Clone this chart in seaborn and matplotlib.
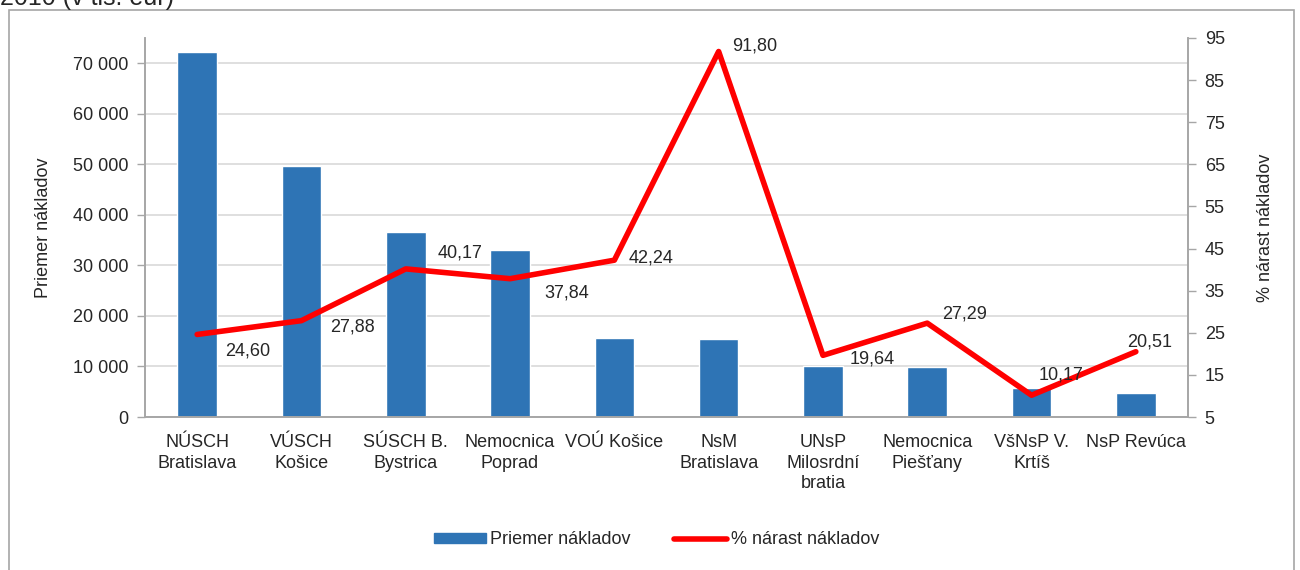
import seaborn as sns
import matplotlib.pyplot as plt
import pandas as pd
from matplotlib.patches import Patch, Rectangle
from matplotlib.lines import Line2D
from matplotlib.ticker import FuncFormatter, MultipleLocator

# Data
categories = ['NÚSCH\nBratislava', 'VÚSCH\nKošice', 'SÚSCH B.\nBystrica', 'Nemocnica\nPoprad',
              'VOÚ Košice', 'NsM\nBratislava', 'UNsP\nMilosrdní\nbratia', 'Nemocnica\nPiešťany',
              'VšNsP V.\nKrtíš', 'NsP Revúca']
avg_costs = [72300, 49700, 36600, 33000, 15700, 15500, 10000, 9900, 5700, 4700]
growth_pct = [24.60, 27.88, 40.17, 37.84, 42.24, 91.80, 19.64, 27.29, 10.17, 20.51]
growth_labels = ['24,60', '27,88', '40,17', '37,84', '42,24', '91,80', '19,64', '27,29', '10,17', '20,51']

# label offsets in pixels (dx, dy)
label_offsets = [(28, -17), (29, -6), (32, 16), (34, -14), (14, 2),
                 (13, 5), (27, -4), (15, 9), (7, 20), (-9, 10)]

df = pd.DataFrame({'cat': categories, 'cost': avg_costs, 'growth': growth_pct})

bar_color = '#2E74B5'
line_color = '#FF0000'
axis_gray = '#A6A6A6'
fs = 13

sns.set_style('white')
plt.rcParams['font.family'] = ['Liberation Sans', 'DejaVu Sans']

fig = plt.figure(figsize=(13, 5.7), dpi=100)
ax = fig.add_axes([145 / 1300, 1 - 417 / 570, (1188 - 145) / 1300, (417 - 38) / 570])

sns.barplot(data=df, x='cat', y='cost', color=bar_color, width=0.38, saturation=1, ax=ax)
ax.set_xlim(-0.5, len(categories) - 0.5)
ax.set_ylim(0, 75000)
ax.yaxis.set_major_locator(MultipleLocator(10000))
ax.yaxis.set_major_formatter(FuncFormatter(lambda v, p: f'{int(v):,}'.replace(',', ' ')))
ax.grid(axis='y', color='#D9D9D9', linewidth=1.2)
ax.set_axisbelow(True)
ax.set_xlabel('')
ax.set_ylabel('Priemer nákladov', fontsize=fs, labelpad=15)

# category ticks at boundaries, labels at centres
ax.set_xticks(range(len(categories)))
ax.set_xticklabels(categories, fontsize=fs, linespacing=1.3)
ax.set_xticks([i - 0.5 for i in range(len(categories) + 1)], minor=True)
ax.tick_params(axis='x', which='major', length=0, pad=12)
ax.tick_params(axis='x', which='minor', length=6, color=axis_gray, width=1)
ax.tick_params(axis='y', labelsize=fs, length=6, color=axis_gray, width=1, left=True, pad=6)

ax2 = ax.twinx()
sns.lineplot(x=list(range(len(categories))), y=growth_pct, color=line_color, linewidth=4, ax=ax2)
ax2.set_ylim(5, 95)
ax2.set_yticks(range(5, 96, 10))
ax2.tick_params(axis='y', labelsize=fs, length=6, color=axis_gray, width=1, right=True, pad=6)
ax2.set_ylabel('% nárast nákladov', fontsize=fs, labelpad=23, rotation=90)
ax2.grid(False)

for a in (ax, ax2):
    a.spines['top'].set_visible(False)
    for s in ('left', 'right', 'bottom'):
        a.spines[s].set_color(axis_gray)
        a.spines[s].set_linewidth(1.2)

for i, (val, txt) in enumerate(zip(growth_pct, growth_labels)):
    dx, dy = label_offsets[i]
    ax2.annotate(txt, (i, val), xytext=(dx, dy), textcoords='offset pixels',
                 ha='left', va='center', fontsize=fs)

# legend below the plot
handles = [Patch(color=bar_color, label='Priemer nákladov'),
           Line2D([0], [0], color=line_color, linewidth=4, label='% nárast nákladov',
                  solid_capstyle='round')]
fig.legend(handles=handles, loc='center', bbox_to_anchor=(0.505, 1 - 540 / 570), ncol=2,
           frameon=False, fontsize=fs, handlelength=2.9, handleheight=0.45,
           handletextpad=0.25, columnspacing=2.4)

# clipped caption and outer chart border
fig.text(0.0, 1.004, '2010 (v tis. eur)', fontsize=18, ha='left', va='center')
fig.add_artist(Rectangle((9 / 1300, -0.05), (1294 - 9) / 1300, 1.05 - 10 / 570,
                         transform=fig.transFigure, fill=False, edgecolor=axis_gray, linewidth=1.2))

plt.savefig('out.png', dpi=100)
